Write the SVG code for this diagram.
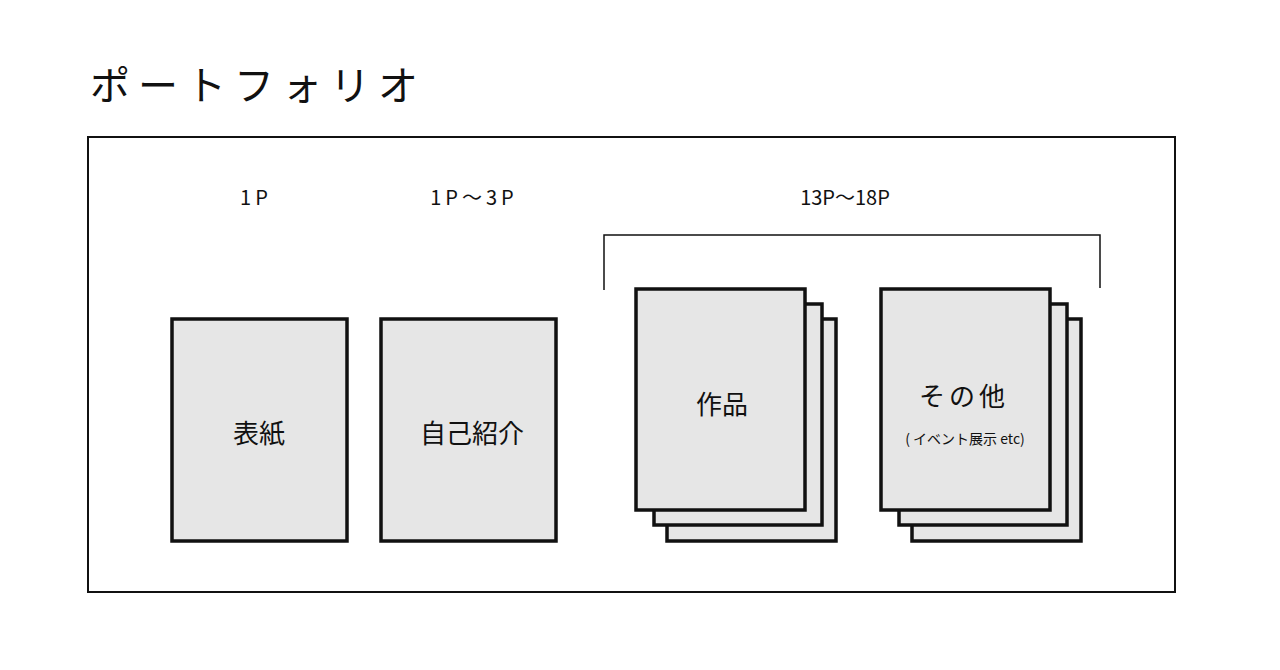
<svg xmlns="http://www.w3.org/2000/svg" width="1280" height="670" viewBox="0 0 1280 670">
<style>
.pg{fill:#e6e6e6;stroke:#111;stroke-width:3.5}
text{font-family:"Noto Sans CJK JP","Noto Sans",sans-serif;fill:#111}
.lbl{font-size:20px;text-anchor:middle;letter-spacing:4px}
.big{font-size:26px;text-anchor:middle}
</style>
<rect width="1280" height="670" fill="#fff"/>
<text x="90" y="100" font-size="40" letter-spacing="8">ポートフォリオ</text>
<rect x="88" y="137" width="1087" height="455" fill="none" stroke="#111" stroke-width="2"/>
<text class="lbl" x="256" y="205">1P</text>
<text class="lbl" x="474" y="205">1P～3P</text>
<text x="845" y="205" font-size="20" text-anchor="middle">13P～18P</text>
<g id="connectors"><path d="M604,290 V235 H1100 V288" fill="none" stroke="#111" stroke-width="1.5"/></g>
<g id="cover"><rect class="pg" x="172" y="319" width="175" height="222"/><text class="big" x="259" y="443">表紙</text></g>
<g id="intro"><rect class="pg" x="381" y="319" width="175" height="222"/><text class="big" x="472" y="443">自己紹介</text></g>
<g id="works"><rect class="pg" x="667" y="319" width="169" height="222"/><rect class="pg" x="654" y="304" width="168" height="221"/><rect class="pg" x="636" y="289" width="169" height="221"/><text class="big" x="722" y="414">作品</text></g>
<g id="other"><rect class="pg" x="912" y="319" width="169" height="222"/><rect class="pg" x="899" y="304" width="168" height="221"/><rect class="pg" x="881" y="289" width="169" height="221"/><text class="big" x="964" y="406" letter-spacing="4">その他</text><text x="965" y="444" font-size="14" text-anchor="middle">( イベント展示 etc)</text></g>
</svg>
